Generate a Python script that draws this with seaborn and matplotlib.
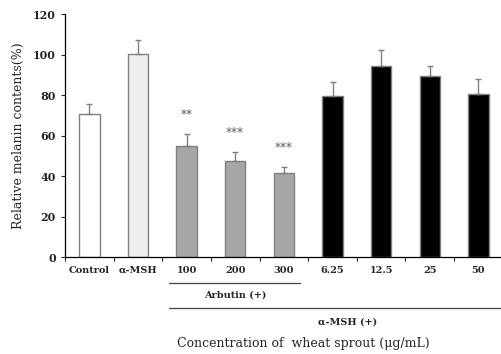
import numpy as np
import pandas as pd
import matplotlib
matplotlib.use("Agg")
import matplotlib.pyplot as plt
import matplotlib.transforms as mtransforms
import seaborn as sns

# ── Data ────────────────────────────────────────────────────────────────────
labels = ["Control", "α-MSH", "100", "200", "300", "6.25", "12.5", "25", "50"]
values = [70.8, 100.2, 54.8, 47.6, 41.7, 79.5, 94.5, 89.5, 80.6]
errors = [5.0, 7.0, 6.2, 4.3, 3.0, 7.2, 8.0, 5.0, 7.2]
bar_colors = ["#ffffff", "#efefef", "#a6a6a6", "#a6a6a6", "#a6a6a6",
              "#000000", "#000000", "#000000", "#000000"]
stars = ["", "", "**", "***", "***", "", "", "", ""]

df = pd.DataFrame({"group": labels, "value": values})

# ── Plot ────────────────────────────────────────────────────────────────────
sns.set_theme(style="white")
plt.rcParams["font.family"] = ["DejaVu Serif"]

fig = plt.figure(figsize=(5.02, 3.54), dpi=100)
ax = fig.add_axes([0.1295, 0.274, 0.872, 0.686])

sns.barplot(data=df, x="group", y="value", hue="group", palette=bar_colors,
            legend=False, width=0.42, edgecolor="#808080", linewidth=1.0,
            errorbar=None, ax=ax)

x = np.arange(len(labels))
ax.errorbar(x, values, yerr=[np.zeros(len(errors)), errors], fmt="none",
            ecolor="#808080", elinewidth=1.0, capsize=2.5, capthick=1.0,
            zorder=1)

for xi, v, e, s in zip(x, values, errors, stars):
    if s:
        ax.text(xi, v + e + 9, s, ha="center", va="center", fontsize=8.5,
                color="#606060")

ax.set_xlim(-0.5, 8.5)
ax.set_ylim(0, 120)
ax.set_yticks(range(0, 121, 20))
ax.tick_params(axis="y", labelsize=8, length=3, direction="out", left=True,
               width=0.8)
for t in ax.get_yticklabels():
    t.set_fontweight("bold")

# category labels between boundary ticks
ax.set_xticks(np.arange(-0.5, 9, 1.0))
ax.set_xticklabels([])
ax.tick_params(axis="x", length=3, direction="out", bottom=True, width=0.8)
trans = mtransforms.blended_transform_factory(ax.transData, ax.transAxes)
for xi, lab in zip(x, labels):
    ax.text(xi, -0.055, lab, transform=trans, ha="center", va="center",
            fontsize=7, fontweight="bold")

for sp in ["top", "right"]:
    ax.spines[sp].set_visible(False)
for sp in ["left", "bottom"]:
    ax.spines[sp].set_color("black")
    ax.spines[sp].set_linewidth(0.9)

# group brackets below the axis
ax.plot([1.64, 4.33], [-0.107, -0.107], transform=trans, color="#444444",
        lw=0.9, clip_on=False)
ax.text(3.0, -0.155, "Arbutin (+)", transform=trans, ha="center",
        va="center", fontsize=7, fontweight="bold")
ax.plot([1.64, 8.5], [-0.21, -0.21], transform=trans, color="#444444",
        lw=0.9, clip_on=False)
ax.text(5.3, -0.268, "α-MSH (+)", transform=trans, ha="center",
        va="center", fontsize=7, fontweight="bold")
ax.text(4.4, -0.355, "Concentration of  wheat sprout (μg/mL)",
        transform=trans, ha="center", va="center", fontsize=9)

ax.set_xlabel("")
ax.set_ylabel("Relative melanin contents(%)", fontsize=9, labelpad=6)

fig.savefig("out.png", dpi=100)
